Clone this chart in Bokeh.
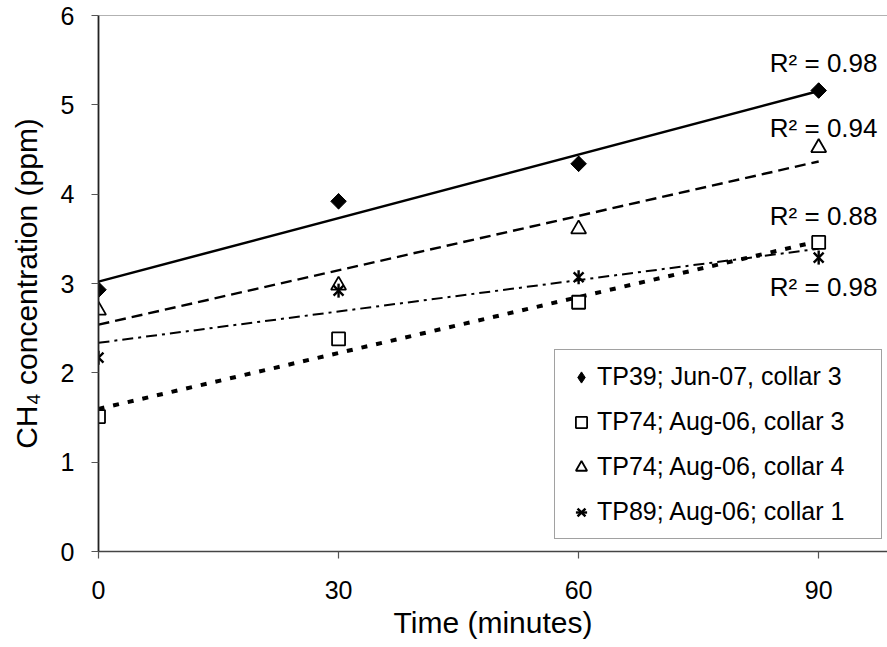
import numpy as np
from bokeh.plotting import figure
from bokeh.models import Range1d, Legend, LegendItem, Span, FixedTicker
from bokeh.core.properties import value
from bokeh.embed import file_html
from bokeh.resources import INLINE

# ---- data ----
time_min = [0, 30, 60, 90]
tp39_jun07_c3 = [2.93, 3.92, 4.34, 5.16]
tp74_aug06_c3 = [1.51, 2.38, 2.79, 3.46]
tp74_aug06_c4 = [2.70, 2.98, 3.61, 4.52]
tp89_aug06_c1 = [2.17, 2.92, 3.07, 3.29]

series_labels = [
    "TP39; Jun-07, collar 3",
    "TP74; Aug-06, collar 3",
    "TP74; Aug-06, collar 4",
    "TP89; Aug-06; collar 1",
]

r2_values = [0.98, 0.94, 0.88, 0.98]
r2_label_y = [5.47, 4.74, 3.76, 2.96]

x_ticks = [0, 30, 60, 90]
y_ticks = [0, 1, 2, 3, 4, 5, 6]

FONT = "Liberation Sans"


def trend(ys):
    m, b = np.polyfit(time_min, ys, 1)
    xs = [min(time_min), max(time_min)]
    return xs, [b + m * x for x in xs]


p = figure(
    width=887, height=647,
    x_range=Range1d(0, 98.6), y_range=Range1d(0, 6),
    output_backend="svg", toolbar_location=None,
    min_border_left=98, min_border_right=0,
    min_border_top=15, min_border_bottom=96,
)
p.background_fill_color = "white"
p.border_fill_color = "white"
p.outline_line_color = None
p.grid.visible = False

# axes
p.xaxis.ticker = FixedTicker(ticks=x_ticks)
p.yaxis.ticker = FixedTicker(ticks=y_ticks)
for ax in (p.xaxis[0], p.yaxis[0]):
    ax.major_label_text_font = FONT
    ax.major_label_text_font_size = "25px"
    ax.major_label_text_color = "black"
    ax.axis_label_text_font = FONT
    ax.axis_label_text_font_size = "30px"
    ax.axis_label_text_font_style = "normal"
    ax.axis_label_text_color = "black"
    ax.minor_tick_line_color = None
    ax.major_tick_in = 0
    ax.major_tick_out = 7
    ax.major_tick_line_color = "#555555"
    ax.major_tick_line_width = 1.2

p.xaxis.axis_label = "Time (minutes)"
p.yaxis.axis_label = "CH\u2084 concentration (ppm)"
p.xaxis.axis_line_color = "#444444"
p.xaxis.axis_line_width = 1.6
p.yaxis.axis_line_color = "#222222"
p.yaxis.axis_line_width = 1.8
p.xaxis.major_label_standoff = 22
p.yaxis.major_label_standoff = 17
p.xaxis.axis_label_standoff = 4
p.yaxis.axis_label_standoff = 15

# top border of the plot area
p.add_layout(Span(location=max(y_ticks), dimension="width",
                  line_color="#666666", line_width=1.2))

# trend lines
xs, ys = trend(tp39_jun07_c3)
p.line(xs, ys, line_color="black", line_width=2.5)
xs, ys = trend(tp74_aug06_c4)
p.line(xs, ys, line_color="black", line_width=2.4, line_dash="11 6")
xs, ys = trend(tp89_aug06_c1)
p.line(xs, ys, line_color="black", line_width=2.0, line_dash="11 5 3 5")
xs, ys = trend(tp74_aug06_c3)
p.line(xs, ys, line_color="black", line_width=4, line_dash="6 9")

# markers
# diamond glyph (used for the legend), covered by a rotated filled square
r_dia_leg = p.scatter(time_min, tp39_jun07_c3, marker="diamond", size=15,
                      fill_color="black", line_color="black")
r_dia = p.scatter(time_min, tp39_jun07_c3, marker="square", angle=np.pi / 4,
                  size=11, fill_color="black", line_color="black")
r_sq = p.scatter(time_min, tp74_aug06_c3, marker="square", size=13,
                 fill_color="white", line_color="black", line_width=1.8)
r_tri = p.scatter(time_min, tp74_aug06_c4, marker="triangle", size=15,
                  fill_color="white", line_color="black", line_width=1.8)
r_x = p.scatter(time_min, tp89_aug06_c1, marker="x", size=14,
                line_color="black", line_width=2.4)
r_v = p.scatter(time_min, tp89_aug06_c1, marker="dash", angle=np.pi / 2, size=14,
                line_color="black", line_width=2.4)

# R^2 labels
p.text(x=[max(time_min)] * len(r2_values), y=r2_label_y,
       text=[f"R\u00b2 = {v:.2f}" for v in r2_values],
       x_offset=5, text_align="center", text_baseline="middle",
       text_font=value(FONT), text_font_size="26px", text_color="black")

legend = Legend(
    items=[
        LegendItem(label=series_labels[0], renderers=[r_dia_leg]),
        LegendItem(label=series_labels[1], renderers=[r_sq]),
        LegendItem(label=series_labels[2], renderers=[r_tri]),
        LegendItem(label=series_labels[3], renderers=[r_x, r_v]),
    ],
    location=(456, 12),
)
legend.label_text_font = FONT
legend.label_text_font_size = "25px"
legend.label_text_color = "black"
legend.label_width = 272
legend.label_height = 29
legend.glyph_height = 28
legend.glyph_width = 28
legend.label_standoff = 2
legend.spacing = 16
legend.padding = 12
legend.margin = 0
legend.border_line_color = "#444444"
legend.border_line_width = 1
legend.background_fill_color = "white"
legend.background_fill_alpha = 1
p.add_layout(legend)

open("out.html", "w").write(file_html(p, INLINE))
